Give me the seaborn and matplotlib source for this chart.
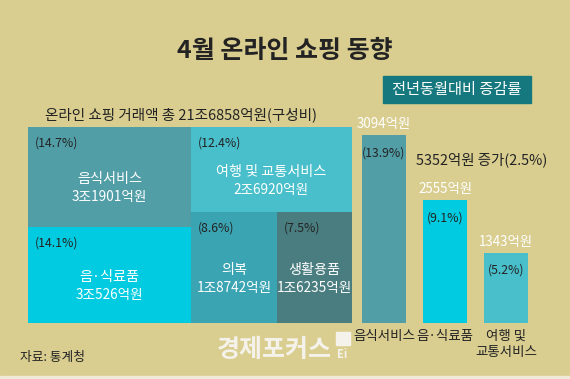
import matplotlib
matplotlib.use("Agg")
import matplotlib.pyplot as plt
import seaborn as sns
import pandas as pd
from matplotlib.patches import Rectangle

# ---------------- data ----------------
tm_categories = ["음식서비스", "음·식료품", "여행 및 교통서비스", "의복", "생활용품"]
tm_amounts = [31901, 30526, 26920, 18742, 16235]  # 억원
tm_amount_labels = ["3조1901억원", "3조526억원", "2조6920억원", "1조8742억원", "1조6235억원"]
tm_shares = [14.7, 14.1, 12.4, 8.6, 7.5]
total_label = "온라인 쇼핑 거래액 총 21조6858억원(구성비)"

bar_categories = ["음식서비스", "음·식료품", "여행 및\n교통서비스"]
bar_increase = [3094, 2555, 1343]  # 억원
bar_rates = [13.9, 9.1, 5.2]       # %
total_increase_label = "5352억원 증가(2.5%)"

title = "4월 온라인 쇼핑 동향"
box_label = "전년동월대비 증감률"
source = "자료: 통계청"
brand = "경제포커스"

# ---------------- style ----------------
BG = "#D9CE90"
DARK = "#232323"
tm_colors = ["#529EA7", "#00CBE0", "#48BFCB", "#3AA4B3", "#4A7D80"]
bar_colors = ["#529EA7", "#00CBE0", "#48BFCB"]

sns.set_style("white")
plt.rcParams["font.family"] = ["Noto Sans CJK KR", "DejaVu Sans"]

W, H = 570, 379
fig = plt.figure(figsize=(W / 100, H / 100), dpi=100, facecolor=BG)


def fx(x):
    return x / W


def fy(y):
    return 1 - y / H


# ---------------- treemap ----------------
def treemap_layout(v):
    total = sum(v)
    wl = (v[0] + v[1]) / total
    wr = 1 - wl
    h0 = v[0] / (v[0] + v[1])
    rest = v[2] + v[3] + v[4]
    h2 = v[2] / rest
    w3 = v[3] / (v[3] + v[4]) * wr
    return [
        (0, 0, wl, h0),
        (0, h0, wl, 1 - h0),
        (wl, 0, wr, h2),
        (wl, h2, w3, 1 - h2),
        (wl + w3, h2, wr - w3, 1 - h2),
    ]


tm_left, tm_top, tm_right, tm_bottom = 28, 127, 352, 323
ax_tm = fig.add_axes([fx(tm_left), fy(tm_bottom), (tm_right - tm_left) / W,
                      (tm_bottom - tm_top) / H])
rects = treemap_layout(tm_amounts)
for (x, y, w, h), c in zip(rects, tm_colors):
    ax_tm.bar(x, h, width=w, bottom=y, align="edge", color=c, linewidth=0)
ax_tm.set_xlim(0, 1)
ax_tm.set_ylim(1, 0)
ax_tm.axis("off")

for (x, y, w, h), name, amt, sh in zip(rects, tm_categories, tm_amount_labels, tm_shares):
    ax_tm.annotate(f"({sh}%)", (x, y), xytext=(7, -16), textcoords="offset pixels",
                   ha="left", va="center", fontsize=8.8, color=DARK)
    cx, cy = x + w / 2, y + h / 2
    ax_tm.annotate(name, (cx, cy), xytext=(0, -2), textcoords="offset pixels",
                   ha="center", va="center", fontsize=10.2, color="white")
    ax_tm.annotate(amt, (cx, cy), xytext=(0, -20), textcoords="offset pixels",
                   ha="center", va="center", fontsize=9.8, color="white")

# ---------------- bars ----------------
scale = 13.55  # px per %
bx_left, bx_width, base = 353.5, 183, 323
ymax = 15
ax_b = fig.add_axes([fx(bx_left), fy(base), bx_width / W, ymax * scale / H])
df = pd.DataFrame({"category": bar_categories, "rate": bar_rates})
sns.barplot(data=df, x="category", y="rate", hue="category", palette=bar_colors,
            width=0.72, saturation=1, legend=False, ax=ax_b, linewidth=0)
ax_b.set_xlim(-0.5, 2.5)
ax_b.set_ylim(0, ymax)
ax_b.set_facecolor("none")
for s in ax_b.spines.values():
    s.set_visible(False)
ax_b.set_yticks([])
ax_b.set_ylabel("")
ax_b.set_xlabel("")
ax_b.set_xticks(range(len(bar_categories)))
ax_b.set_xticklabels(bar_categories, fontsize=9.7, color=DARK, linespacing=1.2)
ax_b.tick_params(axis="x", length=0, pad=4)

for i, (inc, r) in enumerate(zip(bar_increase, bar_rates)):
    ax_b.annotate(f"{inc}억원", (i, r), xytext=(0, 11), textcoords="offset pixels",
                  ha="center", va="center", fontsize=9.6, color="white")
    ax_b.annotate(f"({r}%)", (i, r), xytext=(0, -18), textcoords="offset pixels",
                  ha="center", va="center", fontsize=8.8, color=DARK)

# ---------------- texts ----------------
fig.text(fx(284.5), fy(51), title, ha="center", va="center", fontsize=18,
         fontweight="bold", color=DARK)
fig.patches.append(Rectangle((fx(383), fy(103)), 148 / W, 27 / H,
                             transform=fig.transFigure, color="#15787E", zorder=0))
fig.text(fx(457), fy(89.5), box_label, ha="center", va="center", fontsize=11,
         color="white")
fig.text(fx(45), fy(115), total_label, ha="left", va="center", fontsize=10.5,
         color=DARK)
fig.text(fx(482), fy(160), total_increase_label, ha="center", va="center",
         fontsize=10.4, color=DARK)
fig.text(fx(20), fy(357), source, ha="left", va="center", fontsize=9.2, color=DARK)
fig.text(fx(217), fy(350), brand, ha="left", va="center", fontsize=18,
         fontweight="bold", color="#F4F2EA")
fig.patches.append(Rectangle((fx(336), fy(345)), 14 / W, 13 / H,
                             transform=fig.transFigure, color="#F4F2EA", zorder=0))
fig.text(fx(337), fy(354), "Ei", ha="left", va="center", fontsize=8,
         fontweight="bold", color="#F4F2EA")
fig.patches.append(Rectangle((0, 0), 1, 3 / H, transform=fig.transFigure,
                             color="#EFEBD8", zorder=0))

fig.savefig("out.png", dpi=100, facecolor=BG)
